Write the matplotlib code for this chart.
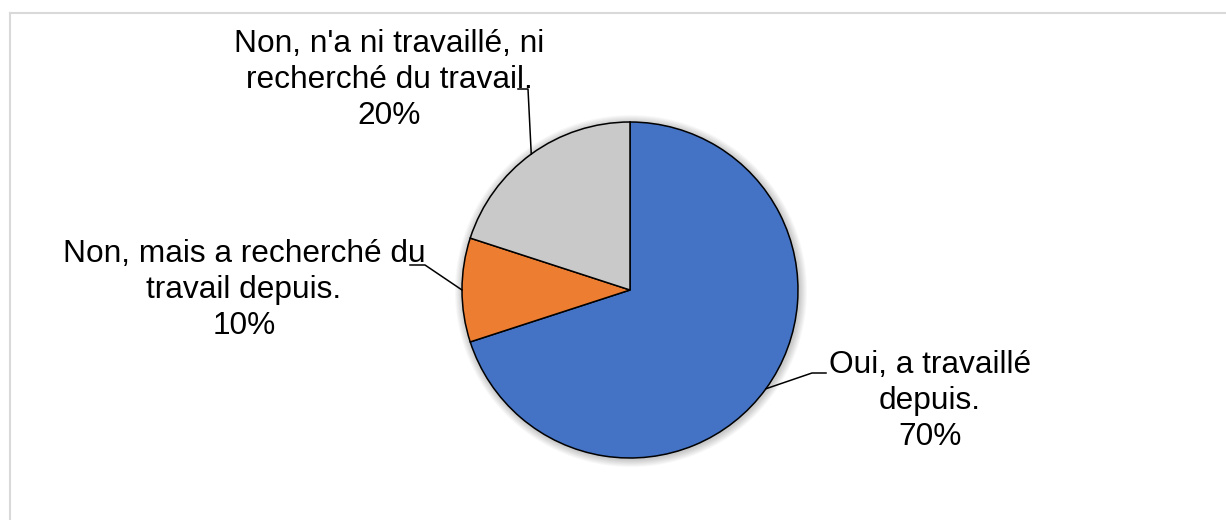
import numpy as np
import matplotlib.pyplot as plt
from matplotlib.patches import Circle

plt.rcParams['font.family'] = ['Liberation Sans', 'DejaVu Sans']

labels = ["Oui, a travaillé\ndepuis.",
          "Non, mais a recherché du\ntravail depuis.",
          "Non, n'a ni travaillé, ni\nrecherché du travail."]
shares = [70, 10, 20]
colors = ['#4472C4', '#ED7D31', '#C9C9C9']

W, H = 1226, 520
fig = plt.figure(figsize=(W / 100, H / 100), dpi=100)
ax = fig.add_axes([0, 0, 1, 1])

cx, cy, r = 630, H - 290, 168

# soft shadow behind the pie
for k in range(8, 0, -1):
    ax.add_patch(Circle((cx + 1, cy - 1), r + k, color='black',
                        alpha=0.028, lw=0, zorder=0))

wedges, _ = ax.pie(shares, colors=colors, startangle=90, counterclock=False,
                   center=(cx, cy), radius=r,
                   wedgeprops=dict(edgecolor='black', linewidth=1.1))
for w in wedges:
    w.set_zorder(2)

# label text centre, elbow of leader, end of stub (pixel coords, y down)
layout = [
    dict(text=(930, 401), elbow=(812, 373), end=(826, 373)),
    dict(text=(244, 290), elbow=(425, 265), end=(410, 265)),
    dict(text=(389, 80), elbow=(528, 89), end=(518, 89)),
]

for w, lab, val, lo in zip(wedges, labels, shares, layout):
    mid = np.deg2rad((w.theta1 + w.theta2) / 2)
    px, py = cx + r * np.cos(mid), cy + r * np.sin(mid)
    ex, ey = lo['elbow'][0], H - lo['elbow'][1]
    sx, sy = lo['end'][0], H - lo['end'][1]
    ax.plot([px, ex, sx], [py, ey, sy], color='black', lw=1.1, zorder=3)
    ax.text(lo['text'][0], H - lo['text'][1], f"{lab}\n{val}%",
            ha='center', va='center', fontsize=22.8, linespacing=1.25,
            zorder=4)

ax.set_xlim(0, W)
ax.set_ylim(0, H)
ax.set_aspect('equal')
ax.axis('off')

# light frame (top and left edges visible)
fig.add_artist(plt.Line2D([10 / W, 1], [1 - 13 / H, 1 - 13 / H],
                          color='#D9D9D9', lw=1.5))
fig.add_artist(plt.Line2D([10 / W, 10 / W], [0, 1 - 13 / H],
                          color='#D9D9D9', lw=1.5))

fig.savefig('out.png', dpi=100)
